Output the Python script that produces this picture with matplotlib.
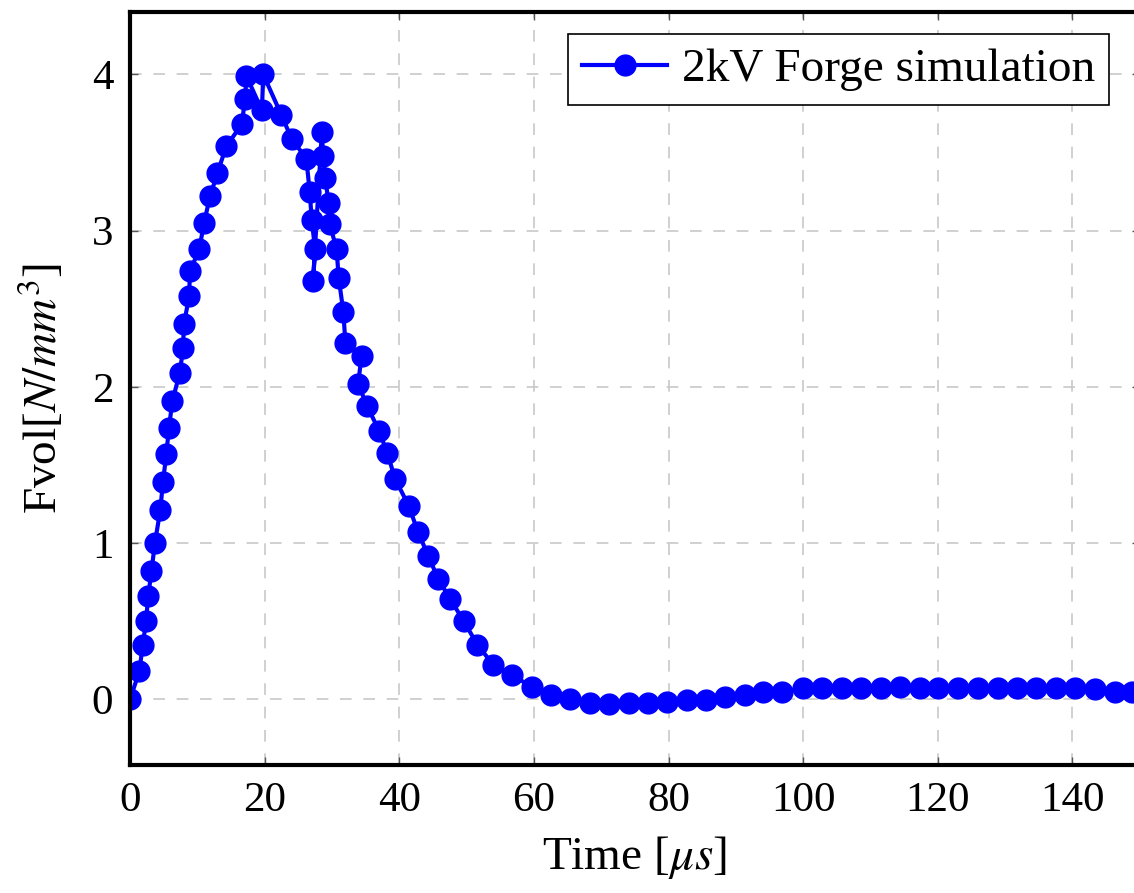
"""
Fvol vs time, 2kV Forge simulation
"""

### IMPORTS ###
import matplotlib
matplotlib.use('Agg')
import matplotlib.pyplot as plt
import numpy as np


### DATA ###
time_us = [0.0, 1.4, 1.9, 2.4, 2.7, 3.2, 3.7, 4.5, 4.9, 5.4, 5.8, 6.3, 7.4, 7.9,
           8.0, 8.8, 8.9, 10.3, 11.0, 11.9, 13.0, 14.3, 16.6, 17.1, 17.3, 19.6,
           19.8, 22.5, 24.0, 26.2, 26.7, 27.0, 27.5, 27.2, 28.5, 28.7, 29.0, 29.5,
           29.7, 30.7, 31.0, 31.7, 32.0, 34.4, 33.9, 35.2, 37.0, 38.2, 39.4, 41.4,
           42.8, 44.3, 45.8, 47.6, 49.6, 51.6, 54.0, 56.8, 59.7, 62.6, 65.4, 68.3,
           71.2, 74.1, 77.0, 79.8, 82.7, 85.5, 88.4, 91.3, 94.1, 96.9, 99.9, 102.8,
           105.7, 108.6, 111.5, 114.4, 117.3, 120.1, 123.0, 125.9, 128.9, 131.8,
           134.6, 137.5, 140.4, 143.4, 146.3, 148.9]
fvol = [0.00, 0.18, 0.35, 0.50, 0.66, 0.82, 1.00, 1.21, 1.39, 1.57, 1.74, 1.91, 2.09, 2.25,
        2.40, 2.58, 2.74, 2.88, 3.05, 3.22, 3.37, 3.54, 3.68, 3.84, 3.99, 3.77,
        4.00, 3.74, 3.59, 3.46, 3.25, 3.07, 2.88, 2.68, 3.63, 3.48, 3.34, 3.18,
        3.04, 2.88, 2.70, 2.48, 2.28, 2.20, 2.02, 1.88, 1.72, 1.58, 1.41, 1.24,
        1.07, 0.92, 0.77, 0.64, 0.50, 0.35, 0.22, 0.155, 0.08, 0.03, 0.005, -0.02,
        -0.03, -0.025, -0.025, -0.015, -0.005, -0.005, 0.017, 0.027, 0.048, 0.045, 0.07, 0.07,
        0.07, 0.07, 0.07, 0.08, 0.07, 0.07, 0.07, 0.07, 0.07, 0.07,
        0.07, 0.07, 0.07, 0.065, 0.05, 0.045]

x_ticks = [0, 20, 40, 60, 80, 100, 120, 140]
y_ticks = [0, 1, 2, 3, 4]


### STYLE ###
plt.rcParams['font.family'] = ['Liberation Serif', 'DejaVu Serif']
plt.rcParams['mathtext.fontset'] = 'stix'


### PLOT ###
fig = plt.figure(figsize=(11.34, 8.93), dpi=100)
ax = fig.add_axes([0.1146, 0.1433, 0.8905, 0.8433])  # right spine falls just past the edge

ax.plot(time_us, fvol, color='#0000ff', lw=3, marker='o', markersize=15,
        label='2kV Forge simulation')

ax.set_xlim(0, 150)
ax.set_ylim(-0.42, 4.4)
ax.set_xticks(x_ticks)
ax.set_yticks(y_ticks)

ax.grid(True, color='#c8c8c8', linestyle=(0, (7, 7)), linewidth=1.2)
ax.set_axisbelow(True)
ax.tick_params(direction='in', length=6, width=1, color='#555555',
               top=True, right=True, labelsize=31, pad=12)
for s in ax.spines.values():
    s.set_linewidth(3)

ax.set_xlabel(r'Time [$\mu s$]', fontsize=34, labelpad=10)
ax.set_ylabel(r'Fvol[$N/mm^3$]', fontsize=34, labelpad=18)

leg = ax.legend(loc='upper right', bbox_to_anchor=(1109 / 1134, 1 - 34 / 893),
                bbox_transform=fig.transFigure, borderaxespad=0, fontsize=34,
                fancybox=False, edgecolor='black', framealpha=1,
                handlelength=1.8, handletextpad=0.3, borderpad=0.3)
leg.get_frame().set_linewidth(1.2)

fig.savefig('out.png', dpi=100)
